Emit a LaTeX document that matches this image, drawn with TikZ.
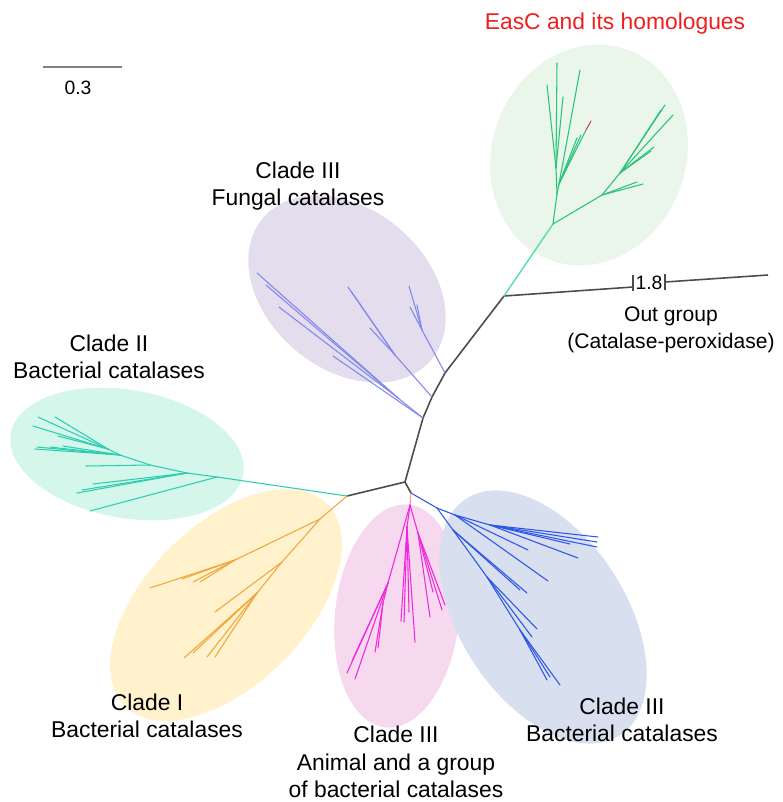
\documentclass[tikz,border=0pt]{standalone}
\usepackage{fontspec}
\setmainfont{Liberation Sans}
\definecolor{greenbg}{RGB}{233,246,233}
\definecolor{purplebg}{RGB}{227,221,237}
\definecolor{tealbg}{RGB}{212,246,235}
\definecolor{yellowbg}{RGB}{255,242,205}
\definecolor{pinkbg}{RGB}{246,217,238}
\definecolor{bluebg}{RGB}{216,223,239}
\definecolor{easc}{RGB}{40,195,120}
\definecolor{eascstem}{RGB}{85,225,160}
\definecolor{easred}{RGB}{200,70,80}
\definecolor{fungal}{RGB}{130,135,235}
\definecolor{cladetwo}{RGB}{45,205,175}
\definecolor{cladeone}{RGB}{242,165,60}
\definecolor{animal}{RGB}{240,40,220}
\definecolor{animalstem}{RGB}{245,150,160}
\definecolor{bact}{RGB}{45,85,230}
\definecolor{spinegray}{RGB}{75,75,75}
\definecolor{labelred}{RGB}{240,30,30}

\begin{document}
\begin{tikzpicture}[x=0.02cm,y=-0.02cm]
   \tikzstyle{every node}=[align=center, font=\fontsize{13}{15.6}\selectfont]
   \tikzstyle{spine}=[draw=spinegray, line width=0.9pt, line join=round]
   \tikzstyle{twig}=[line width=0.6pt, line cap=round]

\useasboundingbox (0,0) rectangle (782,802);

\fill[greenbg, rotate around={70:(589,155)}] (589,155) ellipse [x radius=112, y radius=97];
\fill[purplebg, rotate around={-40:(347,289)}] (347,289) ellipse [x radius=110, y radius=80];
\fill[tealbg, rotate around={-10:(127,454)}] (127,454) ellipse [x radius=118, y radius=64];
\fill[yellowbg, rotate around={45:(226,605)}] (226,605) ellipse [x radius=143, y radius=80];
\fill[pinkbg, rotate around={84:(397,616)}] (397,616) ellipse [x radius=112, y radius=62];
\fill[bluebg, rotate around={-57:(543,617)}] (543,617) ellipse [x radius=141, y radius=83];

\foreach \n/\x/\y in {A/504/296, F1/445/373, F2/432/397, F3/423/418, C/405/482, D/347/496, E/411/493,
    O1/633/287, O2/665/282, O3/768/275, T1/633/275, T2/633/291, T3/665/274, T4/665/290,
    B1/553/224, B2/557/194, B3/556/168, B4/559/184, B5/602/195, B6/620/173,
    e1/557/63, e2/547/85, e3/563/97, e4/580/70, e5/586/130, er/591/121, e7/577/138, e8/581/135,
    e9/643/184, e9b/637/182, e10/673/115, e11/665/105, e12/661/110, e13/654/147, e14/651/151,
    K1/217/477, K2/187/473, K3/150/465, K4/120/455, K5/108/449,
    k1/90/511, k2/77/493, k3/82/490, k4/93/484, k5/86/466, k6/35/449, k7/37/447, k8/50/447, k9/63/446,
    k10/33/426, k11/38/417, k12/55/417, k13/58/436,
    L1/320/519, L2/235/560, L3/282/562, L4/257/593,
    l1/150/588, l2/182/579, l3/193/582, l4/200/582, l5/215/612, l6/184/658, l7/193/653, l8/207/657, l9/215/657,
    M0/410/505, M1/388/583, M4/383/603, M2/407/527, M3/418/533,
    m1/347/673, m2/355/679, m3/352/661, m4/375/652, m5/378/648, m6/401/621, m7/404/622, m8/409/612,
    m9/415/642, m10/430/617, m11/445/605, m12/442/610, m13/433/592,
    G/437/508, N1/455/515, N2/490/525, P1/453/530, P2/487/577, P3/520/630,
    n1/598/537, n2/597/542, n3/597/547, n4/570/544, n5/578/558, n6/528/550, n7/548/581,
    p1/527/593, p2/520/590, p3/537/629, p4/532/637, p5/547/680, p6/560/685, p7/550/677,
    Q1/422/330, Q2/395/355, Q3/398/398,
    q1/409/286, q2/410/307, q3/417/305, q4/348/287, q5/351/291, q6/370/328,
    q7/257/273, q8/266/285, q9/279/307, q10/333/356}
    \coordinate (\n) at (\x,\y);

\draw[spine] (A) -- (F1) -- (F2) -- (F3) -- (C) -- (D);
\draw[spine] (C) -- (E);
\draw[spine] (A) -- (O1);
\draw[spine] (O2) -- (O3);
\draw[spine] (T1) -- (T2);
\draw[spine] (T3) -- (T4);

\draw[twig, eascstem, line width=0.8pt] (A) -- (B1);
\foreach \a/\b in {B1/B2, B2/B3, B2/B4, B3/e1, B3/e2, B3/e3, B4/e4, B4/e5, B4/e7, B4/e8,
    B1/B5, B5/e9, B5/e9b, B5/B6, B6/e10, B6/e11, B6/e12, B6/e13, B6/e14}
    \draw[twig, easc] (\a) -- (\b);
\draw[twig, easred] (e5) -- (er);

\foreach \a/\b in {F1/Q1, Q1/q1, Q1/q2, Q1/q3, F2/Q2, Q2/q4, Q2/q5, Q2/q6,
    F3/Q3, Q3/q7, Q3/q8, Q3/q9, F3/q10}
    \draw[twig, fungal] (\a) -- (\b);

\foreach \a/\b in {D/K1, K1/k1, K1/K2, K2/k2, K2/k3, K2/k4, K2/K3, K3/k5, K3/K4,
    K4/k6, K4/k7, K4/k8, K4/k9, K4/K5, K5/k10, K5/k11, K5/k12, K5/k13}
    \draw[twig, cladetwo] (\a) -- (\b);

\foreach \a/\b in {D/L1, L1/L2, L2/l1, L2/l2, L2/l3, L2/l4, L1/L3, L3/l5, L3/L4,
    L4/l6, L4/l7, L4/l8, L4/l9}
    \draw[twig, cladeone] (\a) -- (\b);

\draw[twig, animalstem] (E) -- (M0);
\foreach \a/\b in {M0/M1, M1/m1, M1/m2, M1/m3, M1/M4, M4/m4, M4/m5, M0/M2, M2/m6, M2/m7, M2/m8,
    M2/m9, M0/M3, M3/m10, M3/m11, M3/m12, M3/m13}
    \draw[twig, animal] (\a) -- (\b);

\foreach \a/\b in {E/G, G/N1, N1/N2, N2/n1, N2/n2, N2/n3, N2/n4, N2/n5, N1/n6, N1/n7,
    G/P1, P1/p1, P1/p2, P1/P2, P2/p3, P2/p4, P2/P3, P3/p5, P3/p6, P3/p7}
    \draw[twig, bact] (\a) -- (\b);

\coordinate (s1) at (43,67);
\coordinate (s2) at (122,67);
\draw[gray, line width=0.7pt] (s1) -- (s2);
\node[font=\fontsize{11}{13}\selectfont] (scale) at (78,88) {0.3};

\node[inner sep=1pt, font=\fontsize{11}{13}\selectfont] (len) at (649,283) {1.8};
\node[text=labelred] (easclbl) at (615,24) {EasC and its homologues};
\node (funglbl) at (298,186) {Clade III\\Fungal catalases};
\node (twolbl) at (109,357) {Clade II\\Bacterial catalases};
\node[font=\fontsize{12}{15.6}\selectfont] (outlbl) at (671,330) {Out group\\(Catalase-peroxidase)};
\node (onelbl) at (147,716) {Clade I\\Bacterial catalases};
\node (animlbl) at (396,762) {Clade III\\Animal and a group\\of bacterial catalases};
\node (bactlbl) at (622,720) {Clade III\\Bacterial catalases};

\end{tikzpicture}
\end{document}
